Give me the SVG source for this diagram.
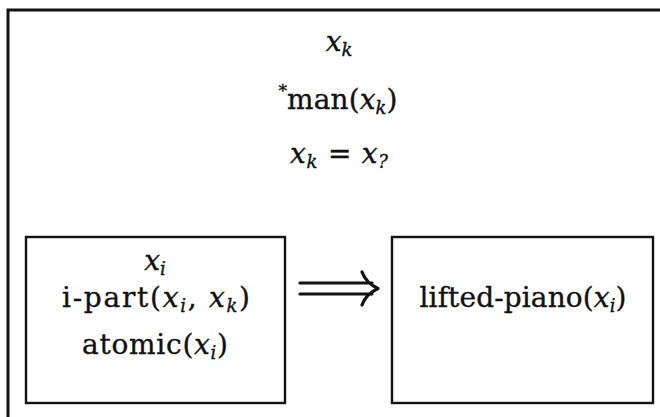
<svg xmlns="http://www.w3.org/2000/svg" width="660" height="417" viewBox="0 0 660 417">
<style>
  text { font-family: 'DejaVu Serif', 'Liberation Serif', serif; font-size: 28px; fill: #111; stroke: #111; stroke-width: 0.35; text-anchor: middle; }
  .v { font-style: italic; }
  .sub { font-size: 18px; font-style: italic; }
  .sup { font-size: 17px; }
  .box { fill: none; stroke: #111; stroke-width: 2.4; }
  .frame { fill: none; stroke: #111; stroke-width: 3; }
  .arrow { fill: none; stroke: #111; stroke-width: 3.2; stroke-linecap: round; stroke-linejoin: round; }
</style>
<rect width="660" height="417" fill="#fff"/>
<g id="context">
  <path class="frame" d="M8,417 V10 H660"/>
  <text x="339" y="51"><tspan class="v">x</tspan><tspan class="sub" dy="5">k</tspan></text>
  <text x="338" y="109" textLength="119" lengthAdjust="spacing"><tspan class="sup" dy="-12">*</tspan><tspan dy="12">man(</tspan><tspan class="v">x</tspan><tspan class="sub" dy="5">k</tspan><tspan dy="-5">)</tspan></text>
  <text x="339" y="163" textLength="98" lengthAdjust="spacing"><tspan class="v">x</tspan><tspan class="sub" dy="5">k</tspan><tspan dy="-5"> = </tspan><tspan class="v">x</tspan><tspan class="sub" dy="5">?</tspan></text>
</g>
<g id="lhs">
  <rect class="box" x="26" y="237" width="259" height="166"/>
  <text x="155" y="270"><tspan class="v">x</tspan><tspan class="sub" dy="5">i</tspan></text>
  <text x="156" y="307" textLength="188" lengthAdjust="spacing">i-part(<tspan class="v">x</tspan><tspan class="sub" dy="5">i</tspan><tspan dy="-5">, </tspan><tspan class="v">x</tspan><tspan class="sub" dy="5">k</tspan><tspan dy="-5">)</tspan></text>
  <text x="155" y="354" textLength="146" lengthAdjust="spacing">atomic(<tspan class="v">x</tspan><tspan class="sub" dy="5">i</tspan><tspan dy="-5">)</tspan></text>
</g>
<g id="rhs">
  <rect class="box" x="392" y="237" width="261" height="166"/>
  <text x="523" y="307" textLength="207" lengthAdjust="spacing">lifted-piano(<tspan class="v">x</tspan><tspan class="sub" dy="5">i</tspan><tspan dy="-5">)</tspan></text>
</g>
<g id="connectors">
  <path class="arrow" d="M300,283 H372 M300,294 H372 M362,272 Q366,283 378,288.5 Q366,294 362,305"/>
</g>
</svg>
